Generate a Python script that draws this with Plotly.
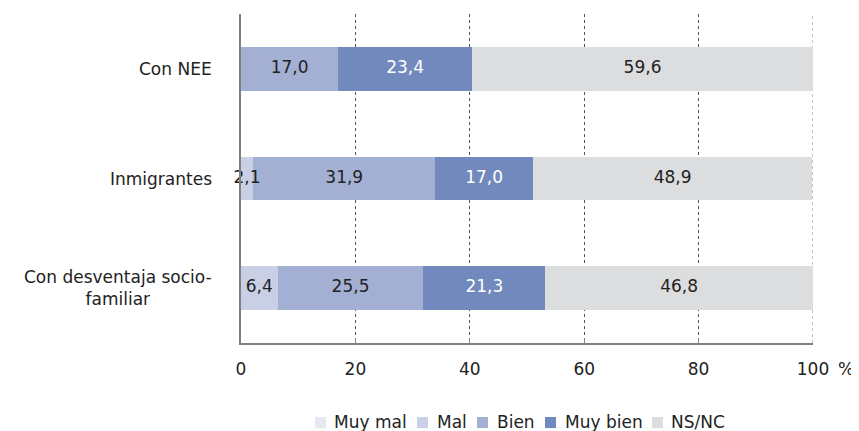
import plotly.graph_objects as go

categories = ["Con NEE", "Inmigrantes", "Con desventaja socio-familiar"]
category_labels = ["Con NEE", "Inmigrantes", "Con desventaja socio-<br>familiar"]
series_names = ["Muy mal", "Mal", "Bien", "Muy bien", "NS/NC"]
muy_mal = [0.0, 0.0, 0.0]
mal = [0.0, 2.1, 6.4]
bien = [17.0, 31.9, 25.5]
muy_bien = [23.4, 17.0, 21.3]
ns_nc = [59.6, 48.9, 46.8]
x_ticks = [0, 20, 40, 60, 80, 100]

colors = ["#e6e9f2", "#c9d0e6", "#a4b0d3", "#7189bd", "#dcdddf"]
text_colors = ["#222222", "#222222", "#222222", "#ffffff", "#222222"]
FONT = "DejaVu Sans, Verdana, sans-serif"
FS = 17

# figure geometry (pixels)
W, H = 851, 423
ML, MR, MT, MB = 233, 46, 6, 88
PW = W - ML - MR
PH = H - MT - MB

all_series = [muy_mal, mal, bien, muy_bien, ns_nc]

fig = go.Figure()
for name, vals, col in zip(series_names, all_series, colors):
    fig.add_trace(go.Bar(
        name=name, y=categories, x=vals, orientation="h",
        marker=dict(color=col, line=dict(width=0)),
        hoverinfo="skip", showlegend=False,
    ))

# value labels drawn on top of all bars, centred on each segment
cum = [0.0] * len(categories)
for vals, tcol in zip(all_series, text_colors):
    xs, ys, ts = [], [], []
    for i, v in enumerate(vals):
        if v > 0:
            xs.append(cum[i] + v / 2)
            ys.append(categories[i])
            ts.append(f"{v:.1f}".replace(".", ","))
        cum[i] += v
    fig.add_trace(go.Scatter(
        x=xs, y=ys, text=ts, mode="text", cliponaxis=False,
        textposition="middle center",
        textfont=dict(color=tcol, size=FS, family=FONT),
        hoverinfo="skip", showlegend=False,
    ))

for cat, lab in zip(categories, category_labels):
    fig.add_annotation(x=0, xref="paper", y=cat, yref="y", text=lab, showarrow=False,
                       xanchor="right", xshift=-27, align="center",
                       font=dict(size=FS, color="#222222", family=FONT))

fig.add_annotation(x=1, xref="paper", y=0, yref="paper", text="%", showarrow=False,
                   xanchor="left", yanchor="middle", xshift=23, yshift=-26,
                   font=dict(size=FS, color="#222222", family=FONT))

# gridline at the last tick (edge of the range)
fig.add_shape(type="line", xref="x", yref="paper", x0=x_ticks[-1], x1=x_ticks[-1],
              y0=0, y1=1, line=dict(color="#888888", width=1, dash="dot"), layer="below")

# custom legend (pixel positions in figure coordinates)
legend_square_px = [307, 409, 469, 537, 644]
legend_text_px = [325, 428, 488, 556, 662]
sq_top, sq_bot, text_mid = 409, 420, 414
def px2x(p):
    return (p - ML) / PW
def py2y(p):
    return (MT + PH - p) / PH
for name, col, sx, tx in zip(series_names, colors, legend_square_px, legend_text_px):
    fig.add_shape(type="rect", xref="paper", yref="paper",
                  x0=px2x(sx), x1=px2x(sx + 11), y0=py2y(sq_bot), y1=py2y(sq_top),
                  fillcolor=col, line=dict(width=0), layer="above")
    fig.add_annotation(x=px2x(tx), xref="paper", y=py2y(text_mid), yref="paper",
                       text=name, showarrow=False, xanchor="left", yanchor="middle",
                       xshift=-1, font=dict(size=FS, color="#222222", family=FONT))

fig.update_layout(
    barmode="stack", bargap=0.6,
    width=W, height=H,
    margin=dict(l=ML, r=MR, t=MT, b=MB, autoexpand=False),
    paper_bgcolor="white", plot_bgcolor="white",
    font=dict(family=FONT, size=FS, color="#222222"),
    xaxis=dict(range=[0, 100], tickvals=x_ticks, ticktext=[str(t) for t in x_ticks],
               showgrid=True, gridcolor="#555555", griddash="dot", gridwidth=1,
               showline=True, linecolor="#808080", linewidth=2, mirror=False,
               ticks="inside", ticklen=5, tickcolor="#808080",
               ticklabelstandoff=10,
               zeroline=False, tickfont=dict(size=FS, color="#222222"),
               fixedrange=True),
    yaxis=dict(categoryorder="array", categoryarray=categories[::-1],
               showticklabels=False, showline=True, linecolor="#808080", linewidth=2,
               showgrid=False, zeroline=False, ticks=""),
    showlegend=False,
)
fig.write_html("out.html")
